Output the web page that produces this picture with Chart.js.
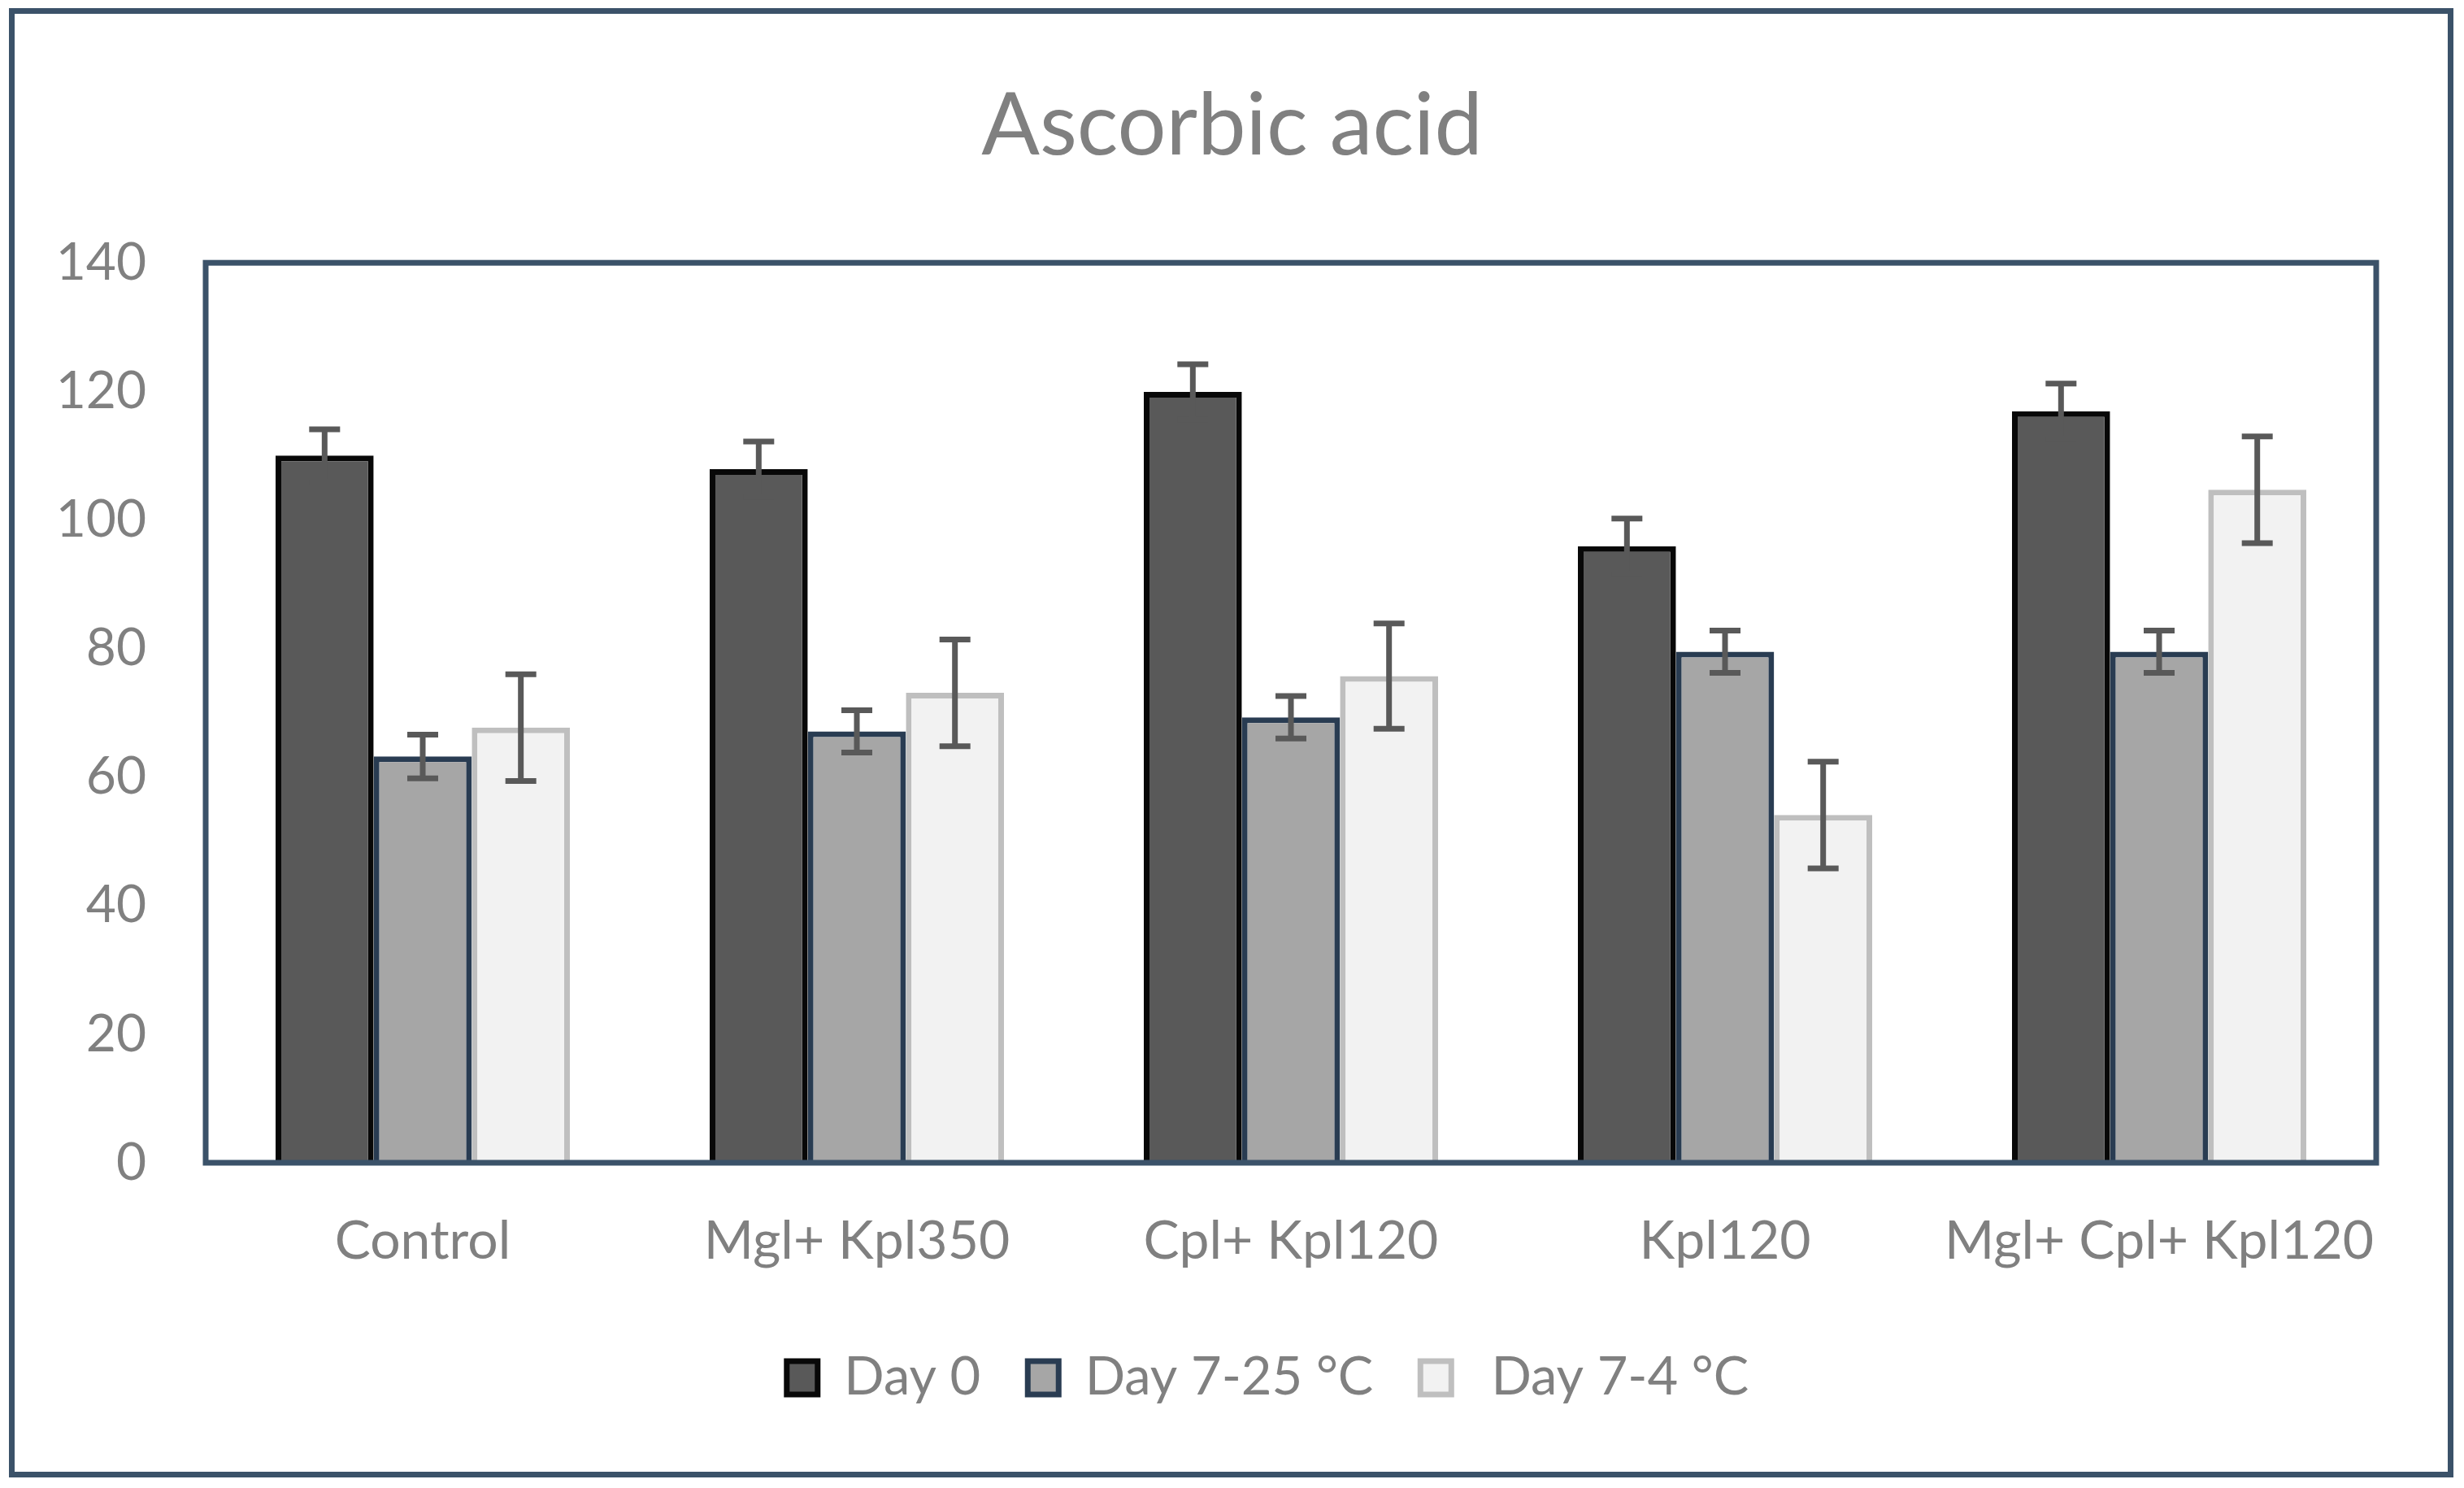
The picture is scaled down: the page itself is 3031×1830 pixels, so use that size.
<!DOCTYPE html>
<html>
<head>
<meta charset="utf-8">
<script src="https://cdn.jsdelivr.net/npm/chart.js@4.4.1/dist/chart.umd.min.js"></script>
<style>
  html, body { margin: 0; padding: 0; background: #ffffff; }
  #wrap { width: 3031px; height: 1830px; }
</style>
</head>
<body>
<div id="wrap"><canvas id="c" width="3031" height="1830" style="width:3031px;height:1830px"></canvas></div>
<script>
const categories = ['Control', 'Mgl+ Kpl350', 'Cpl+ Kpl120', 'Kpl120', 'Mgl+ Cpl+ Kpl120'];
const seriesNames = ['Day 0', 'Day 7-25 °C', ' Day 7-4 °C'];
const day0 = [110, 107.9, 119.9, 95.9, 116.9];
const day0Err = [4.1, 4.3, 4.3, 4.3, 4.3];
const day725 = [63.2, 67.1, 69.3, 79.5, 79.5];
const day725Err = [3.4, 3.3, 3.3, 3.3, 3.3];
const day74 = [67.7, 73.1, 75.7, 54.1, 104.7];
const day74Err = [8.3, 8.3, 8.2, 8.3, 8.3];
const yMin = 0, yMax = 140, yStep = 20;
const titleText = 'Ascorbic acid';

const FONT = 'Lato';
const GREY = '#808080';
const FRAME = '#3b5269';

const errors = [day0Err, day725Err, day74Err];

const errorBarPlugin = {
  id: 'errorBars',
  afterDatasetsDraw(chart) {
    const ctx = chart.ctx;
    const y = chart.scales.y;
    ctx.save();
    ctx.strokeStyle = '#595959';
    ctx.lineWidth = 7;
    ctx.lineCap = 'butt';
    chart.data.datasets.forEach((ds, i) => {
      const meta = chart.getDatasetMeta(i);
      meta.data.forEach((el, j) => {
        const v = ds.data[j];
        const e = errors[i][j];
        const top = y.getPixelForValue(v + e);
        const bot = y.getPixelForValue(v - e);
        const cw = 19;
        ctx.beginPath();
        ctx.moveTo(el.x, top); ctx.lineTo(el.x, bot);
        ctx.moveTo(el.x - cw, top); ctx.lineTo(el.x + cw, top);
        ctx.moveTo(el.x - cw, bot); ctx.lineTo(el.x + cw, bot);
        ctx.stroke();
      });
    });
    // plot area frame
    const a = chart.chartArea;
    ctx.strokeStyle = FRAME;
    ctx.lineWidth = 7;
    ctx.strokeRect(a.left, a.top, a.right - a.left, a.bottom - a.top);
    ctx.restore();
  }
};

const outerPlugin = {
  id: 'outer',
  beforeDraw(chart) {
    const ctx = chart.ctx;
    ctx.save();
    ctx.fillStyle = '#ffffff';
    ctx.fillRect(0, 0, chart.width, chart.height);
    ctx.restore();
  },
  afterDraw(chart) {
    const ctx = chart.ctx;
    ctx.save();
    ctx.strokeStyle = FRAME;
    ctx.lineWidth = 7;
    ctx.strokeRect(14.5, 13.5, chart.width - 31, chart.height - 30);
    ctx.restore();
  },
  afterLayout(chart) {
    if (chart.legend) {
      chart.legend.left += 88;
      chart.legend.right += 88;
    }
    if (chart.titleBlock) {
      chart.titleBlock.left += 44;
      chart.titleBlock.right += 44;
    }
  }
};

new Chart(document.getElementById('c'), {
  type: 'bar',
  data: {
    labels: categories,
    datasets: [
      { label: seriesNames[0], data: day0, backgroundColor: '#595959', borderColor: '#080808', borderWidth: 7 },
      { label: seriesNames[1], data: day725, backgroundColor: '#a6a6a6', borderColor: '#293c52', borderWidth: 7 },
      { label: seriesNames[2], data: day74, backgroundColor: '#f2f2f2', borderColor: '#bfbfbf', borderWidth: 7 }
    ]
  },
  options: {
    responsive: false,
    devicePixelRatio: 1,
    animation: false,
    layout: { padding: { left: 20, right: 108, top: 20, bottom: 93 } },
    datasets: { bar: { categoryPercentage: 0.678, barPercentage: 1.0, borderSkipped: 'start' } },
    scales: {
      x: {
        grid: { display: false, drawTicks: false },
        border: { display: false },
        ticks: { color: GREY, font: { family: FONT, size: 66 }, padding: 57, maxRotation: 0, autoSkip: false },
        afterFit(scale) { scale.height = 174; }
      },
      y: {
        min: yMin, max: yMax,
        grid: { display: false, drawTicks: false },
        border: { display: false },
        ticks: { stepSize: yStep, color: GREY, font: { family: FONT, size: 64 }, padding: 73 },
        afterFit(scale) { scale.width = 233; }
      }
    },
    plugins: {
      title: {
        display: true, text: titleText, color: GREY,
        font: { family: FONT, size: 106, weight: 'normal' },
        padding: { top: 72, bottom: 104 }
      },
      legend: {
        display: true, position: 'bottom',
        labels: { color: GREY, font: { family: FONT, size: 65 }, boxWidth: 38, boxHeight: 41, padding: 58 }
      },
      tooltip: { enabled: false }
    }
  },
  plugins: [errorBarPlugin, outerPlugin]
});
</script>
</body>
</html>
